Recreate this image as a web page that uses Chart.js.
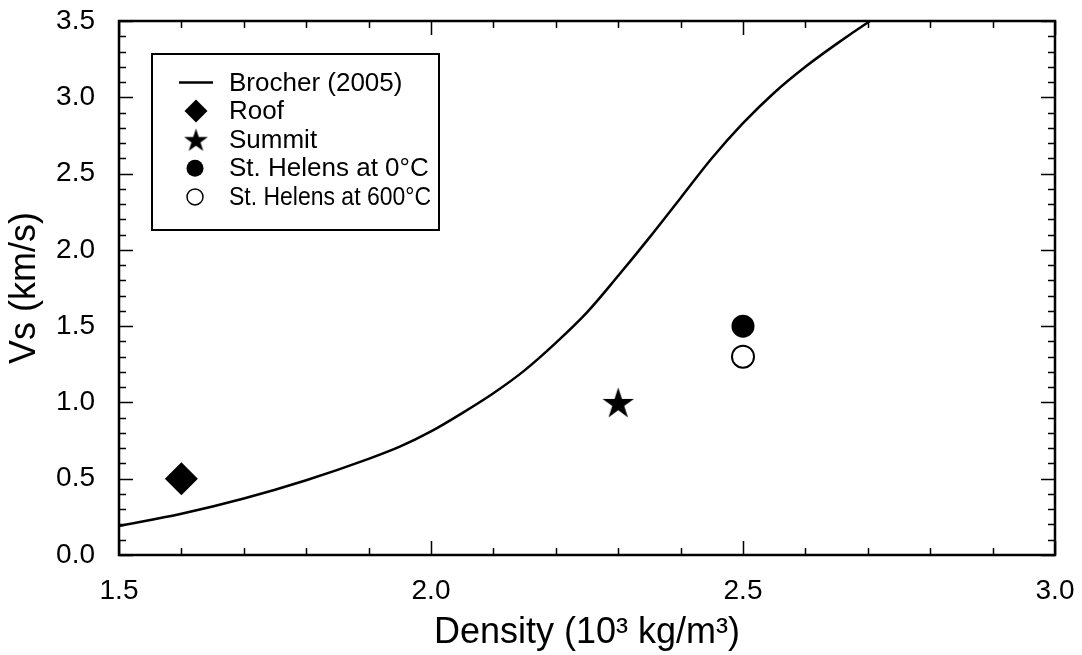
<!DOCTYPE html>
<html>
<head>
<meta charset="utf-8">
<script src="https://cdn.jsdelivr.net/npm/chart.js@4/dist/chart.umd.min.js"></script>
<style>
  html, body { margin: 0; padding: 0; background: #fff; }
  #wrap { width: 1082px; height: 655px; }
</style>
</head>
<body>
<div id="wrap"><canvas id="vsChart" width="1082" height="655"></canvas></div>
<script>
// Brocher (2005) curve
const curveDensity = [1.5, 1.6, 1.7, 1.8, 1.9, 1.95, 2.0, 2.05, 2.1, 2.15, 2.2, 2.25, 2.3, 2.35, 2.4, 2.45, 2.5, 2.55, 2.6, 2.65, 2.7, 2.75];
const curveVs = [0.19, 0.27, 0.37, 0.49, 0.63, 0.71, 0.81, 0.93, 1.06, 1.21, 1.39, 1.59, 1.83, 2.08, 2.34, 2.6, 2.83, 3.03, 3.2, 3.35, 3.49, 3.62];

// single samples
const sampleNames = ["Roof", "Summit", "St. Helens at 0°C", "St. Helens at 600°C"];
const sampleDensity = [1.6, 2.3, 2.5, 2.5];
const sampleVs = [0.5, 1.0, 1.5, 1.3];

const xTicks = [1.5, 2.0, 2.5, 3.0];
const yTicks = [0.0, 0.5, 1.0, 1.5, 2.0, 2.5, 3.0, 3.5];

const FONT = "'Liberation Sans', Arial, Helvetica, sans-serif";

// filled five point star, used as a point style
function makeStar(r) {
  const c = document.createElement("canvas");
  const size = Math.ceil(r * 2) + 2;
  c.width = size;
  c.height = size;
  const g = c.getContext("2d");
  g.beginPath();
  for (let i = 0; i < 10; i++) {
    const rad = i % 2 === 0 ? r : r * 0.382;
    const a = -Math.PI / 2 + i * Math.PI / 5;
    g.lineTo(size / 2 + rad * Math.cos(a), size / 2 + rad * Math.sin(a) + r * 0.095);
  }
  g.closePath();
  g.fillStyle = "#000";
  g.fill();
  return c;
}
const bigStar = makeStar(16.5);
const smallStar = makeStar(12.5);

const ctx = document.getElementById("vsChart").getContext("2d");

function pt(i) {
  return [{ x: sampleDensity[i], y: sampleVs[i] }];
}

// inward ticks and frame, like the original plot
const framePlugin = {
  id: "frame",
  afterDatasetsDraw(chart) {
    const { ctx, chartArea: a, scales: { x, y } } = chart;
    ctx.save();
    ctx.strokeStyle = "#000";
    ctx.lineWidth = 1.5;
    ctx.beginPath();
    for (let i = 15; i <= 30; i++) {
      const px = Math.round(x.getPixelForValue(i / 10)) + 0.5;
      const len = i % 5 === 0 ? 14 : 7;
      ctx.moveTo(px, a.bottom); ctx.lineTo(px, a.bottom - len);
      ctx.moveTo(px, a.top); ctx.lineTo(px, a.top + len);
    }
    for (let i = 0; i <= 35; i++) {
      const py = Math.round(y.getPixelForValue(i / 10)) + 0.5;
      const len = i % 5 === 0 ? 14 : 7;
      ctx.moveTo(a.left, py); ctx.lineTo(a.left + len, py);
      ctx.moveTo(a.right, py); ctx.lineTo(a.right - len, py);
    }
    ctx.stroke();
    ctx.lineWidth = 2.5;
    ctx.strokeRect(a.left, a.top, a.right - a.left, a.bottom - a.top);
    ctx.restore();
  }
};

// boxed legend in the upper left corner
const legendPlugin = {
  id: "boxLegend",
  afterDraw(chart) {
    const ctx = chart.ctx;
    const bx = 152, by = 54, bw = 287, bh = 176;
    const symX = 196, textX = 229, row0 = 82.5, rowH = 28.6;
    ctx.save();
    ctx.fillStyle = "#fff";
    ctx.fillRect(bx, by, bw, bh);
    ctx.strokeStyle = "#000";
    ctx.lineWidth = 2;
    ctx.strokeRect(bx, by, bw, bh);
    ctx.font = "26px " + FONT;
    ctx.textBaseline = "middle";
    ctx.fillStyle = "#000";
    chart.data.datasets.forEach((ds, i) => {
      const cy = row0 + i * rowH;
      ctx.beginPath();
      if (ds.legendKind === "line") {
        ctx.lineWidth = 2.5;
        ctx.moveTo(symX - 17, cy); ctx.lineTo(symX + 17, cy);
        ctx.stroke();
      } else if (ds.legendKind === "diamond") {
        const r = 11.5;
        ctx.moveTo(symX - r, cy); ctx.lineTo(symX, cy - r);
        ctx.lineTo(symX + r, cy); ctx.lineTo(symX, cy + r);
        ctx.closePath(); ctx.fill();
      } else if (ds.legendKind === "star") {
        ctx.drawImage(smallStar, symX - smallStar.width / 2, cy - smallStar.height / 2);
      } else if (ds.legendKind === "dot") {
        ctx.arc(symX - 1, cy, 8.5, 0, Math.PI * 2); ctx.fill();
      } else if (ds.legendKind === "ring") {
        ctx.lineWidth = 1.5;
        ctx.arc(symX - 1, cy, 8, 0, Math.PI * 2); ctx.stroke();
      }
      ctx.fillText(ds.label, textX, cy + 1, 202);
    });
    ctx.restore();
  }
};

const vsChart = new Chart(ctx, {
  type: "scatter",
  data: {
    datasets: [
      {
        label: "Brocher (2005)",
        legendKind: "line",
        type: "line",
        data: curveDensity.map((d, i) => ({ x: d, y: curveVs[i] })),
        borderColor: "#000",
        borderWidth: 2.5,
        pointRadius: 0,
        cubicInterpolationMode: "monotone",
        fill: false,
      },
      {
        label: sampleNames[0],
        legendKind: "diamond",
        data: pt(0),
        pointStyle: "rectRot",
        pointRadius: 16.5,
        backgroundColor: "#000",
        borderWidth: 0,
      },
      {
        label: sampleNames[1],
        legendKind: "star",
        data: pt(1),
        pointStyle: bigStar,
      },
      {
        label: sampleNames[2],
        legendKind: "dot",
        data: pt(2),
        pointStyle: "circle",
        pointRadius: 11.5,
        backgroundColor: "#000",
        borderWidth: 0,
      },
      {
        label: sampleNames[3],
        legendKind: "ring",
        data: pt(3),
        pointStyle: "circle",
        pointRadius: 11,
        backgroundColor: "#fff",
        borderColor: "#000",
        borderWidth: 2,
      },
    ],
  },
  options: {
    responsive: false,
    animation: false,
    devicePixelRatio: 1,
    layout: { padding: { left: 0, top: 21, right: 27, bottom: 0 } },
    plugins: { legend: { display: false }, tooltip: { enabled: false } },
    scales: {
      x: {
        type: "linear",
        min: 1.5,
        max: 3.0,
        afterFit: (s) => { s.height = 100; s.paddingLeft = 0; s.paddingRight = 0; },
        afterBuildTicks: (s) => { s.ticks = xTicks.map((v) => ({ value: v })); },
        grid: { display: false },
        border: { display: false },
        ticks: { font: { family: FONT, size: 28 }, color: "#000", padding: 11, callback: (v) => v.toFixed(1) },
        title: {
          display: true,
          text: "Density (10³ kg/m³)",
          font: { family: FONT, size: 36, lineHeight: 1 },
          color: "#000",
          padding: { top: 0, bottom: 4 },
        },
      },
      y: {
        type: "linear",
        min: 0,
        max: 3.5,
        afterFit: (s) => { s.width = 119; s.paddingTop = 0; s.paddingBottom = 0; },
        afterBuildTicks: (s) => { s.ticks = yTicks.map((v) => ({ value: v })); },
        grid: { display: false },
        border: { display: false },
        ticks: { font: { family: FONT, size: 28 }, color: "#000", padding: 16, callback: (v) => v.toFixed(1) },
        title: {
          display: true,
          text: "Vs (km/s)",
          font: { family: FONT, size: 36, lineHeight: 1 },
          color: "#000",
          padding: { top: 7, bottom: 0 },
        },
      },
    },
  },
  plugins: [framePlugin, legendPlugin],
});
</script>
</body>
</html>
